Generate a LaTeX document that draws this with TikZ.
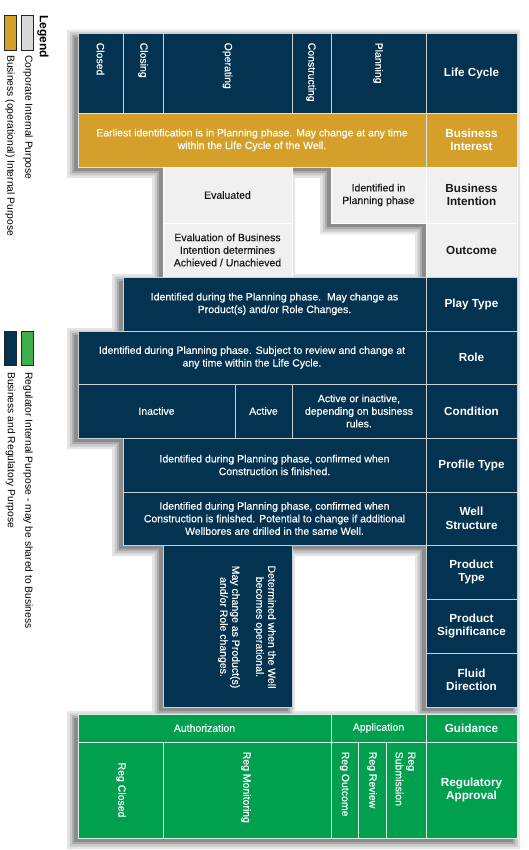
\documentclass[tikz,border=0pt]{standalone}
\usepackage{fontspec}
\setmainfont{Liberation Sans}
\newfontfamily\heavyfont{Liberation Sans}[FakeBold=0.35]
\definecolor{navy}{HTML}{033350}
\definecolor{gold}{HTML}{D4A02A}
\definecolor{lgray}{HTML}{F0F0F0}
\definecolor{regreen}{HTML}{00A04F}
\definecolor{leggreen}{HTML}{3DAE49}
\definecolor{leggray}{HTML}{D9D9D9}
\definecolor{cellline}{HTML}{C9D0D6}
\definecolor{shadowc}{HTML}{303030}
\newcommand{\mycell}[7]{\node[#6, minimum width={(#4-#2)*1pt}, minimum height={(#5-#3)*1pt}, anchor=north west] (#1) at (#2,#3) {#7};}
\newcommand{\shadowblocks}[1]{%
  \fill[shadowc] (78-#1,33-#1) rectangle (517+#1,167+#1);
  \fill[shadowc] (163-#1,167-#1) rectangle (292+#1,277+#1);
  \fill[shadowc] (331-#1,167-#1) rectangle (517+#1,223+#1);
  \fill[shadowc] (426-#1,223-#1) rectangle (517+#1,277+#1);
  \fill[shadowc] (123-#1,277-#1) rectangle (517+#1,331+#1);
  \fill[shadowc] (78-#1,331-#1) rectangle (517+#1,438+#1);
  \fill[shadowc] (123-#1,438-#1) rectangle (517+#1,545+#1);
  \fill[shadowc] (163-#1,545-#1) rectangle (292+#1,707+#1);
  \fill[shadowc] (426-#1,545-#1) rectangle (517+#1,707+#1);
  \fill[shadowc] (78-#1,714-#1) rectangle (517+#1,838+#1);}
\tikzset{
  body/.style={font=\heavyfont\fontsize{10.5}{12.6}\selectfont},
  lab/.style={font=\bfseries\fontsize{11.7}{13.4}\selectfont},
  basecell/.style={line width=0.8pt, align=center, inner sep=0pt, outer sep=0pt},
  navycell/.style={basecell, fill=navy, draw=cellline, text=white},
  goldcell/.style={basecell, fill=gold, draw=cellline!60!white, text=white},
  graycell/.style={basecell, fill=lgray, draw=white, text=black!90},
  greencell/.style={basecell, fill=regreen, draw=white!85!regreen, text=white},
  swatch/.style={basecell, draw=black!85, line width=0.9pt},
  vtxt/.style={rotate=-90, anchor=west, inner sep=0pt, font=\heavyfont\fontsize{10.5}{12.6}\selectfont, text=white},
  legtxt/.style={rotate=-90, anchor=west, inner sep=0pt, font=\fontsize{10.3}{12.4}\selectfont, text=black}
}
\begin{document}
\begin{tikzpicture}[x=1pt, y=-1pt]
\useasboundingbox (0,0) rectangle (528,850);
\fill[white] (0,0) rectangle (528,850);
% shadows
\begin{scope}[shift={(-4,4)}]
  \begin{scope}[transparency group, opacity=0.12] \shadowblocks{7} \end{scope}
  \begin{scope}[transparency group, opacity=0.15] \shadowblocks{4.5} \end{scope}
  \begin{scope}[transparency group, opacity=0.2] \shadowblocks{2} \end{scope}
  \begin{scope}[transparency group, opacity=0.25] \shadowblocks{0} \end{scope}
\end{scope}
% legend
\node[rotate=-90, anchor=west, inner sep=0pt, font=\bfseries\fontsize{12}{14}\selectfont] (legend) at (43,15) {Legend};
\mycell{swgray}{21}{15}{33}{50}{swatch, fill=leggray}{}
\mycell{swgold}{4}{15}{16}{50}{swatch, fill=gold}{}
\node[legtxt] (lgcorp) at (28,55) {Corporate Internal Purpose};
\node[legtxt] (lgbiz) at (10,55) {Business (operational) Internal Purpose};
\mycell{swgreen}{21}{331}{33}{365}{swatch, fill=leggreen}{}
\mycell{swnavy}{4}{331}{16}{365}{swatch, fill=navy}{}
\node[legtxt] (lgreg) at (28,372) {Regulator Internal Purpose - may be shared to Business};
\node[legtxt] (lgbr) at (10.5,372) {Business and Regulatory Purpose};
% life cycle
\mycell{closed}{78}{33}{123}{113}{navycell}{}
\mycell{closing}{123}{33}{163}{113}{navycell}{}
\mycell{operating}{163}{33}{292}{113}{navycell}{}
\mycell{constructing}{292}{33}{331}{113}{navycell}{}
\mycell{planning}{331}{33}{426}{113}{navycell}{}
\mycell{lifecycle}{426}{33}{517}{113}{navycell,lab}{Life Cycle}
\node[vtxt] (tclosed) at (100.5,42.5) {Closed};
\node[vtxt] (tclosing) at (143,42.5) {Closing};
\node[vtxt] (toperating) at (227.5,42.5) {Operating};
\node[vtxt] (tconstructing) at (311,42.5) {Constructing};
\node[vtxt] (tplanning) at (378,42.5) {Planning};
% business interest
\mycell{biztxt}{78}{113}{426}{167}{goldcell,body}{Earliest identification is in Planning phase. May change at any time\\within the Life Cycle of the Well.}
\mycell{bizint}{426}{113}{517}{167}{goldcell,lab}{Business\\Interest}
% business intention / outcome
\mycell{evaluated}{163}{167}{292}{223}{graycell,body}{Evaluated}
\mycell{identified}{331}{167}{426}{223}{graycell,body}{Identified in\\Planning phase}
\mycell{bizintent}{426}{167}{517}{223}{graycell,lab}{Business\\Intention}
\mycell{evaloutcome}{163}{223}{292}{277}{graycell,body}{Evaluation of Business\\Intention determines\\Achieved / Unachieved}
\mycell{outcome}{426}{223}{517}{277}{graycell,lab}{Outcome}
% play type
\mycell{playtxt}{123}{277}{426}{331}{navycell,body}{Identified during the Planning phase.\ \ May change as\\Product(s) and/or Role Changes.}
\mycell{playtype}{426}{277}{517}{331}{navycell,lab}{Play Type}
% role
\mycell{roletxt}{78}{331}{426}{384}{navycell,body}{Identified during Planning phase. Subject to review and change at\\any time within the Life Cycle.}
\mycell{role}{426}{331}{517}{384}{navycell,lab}{Role}
% condition
\mycell{inactive}{78}{384}{235}{438}{navycell,body}{Inactive}
\mycell{active}{235}{384}{292}{438}{navycell,body}{Active}
\mycell{actorin}{292}{384}{426}{438}{navycell,body}{Active or inactive,\\depending on business\\rules.}
\mycell{condition}{426}{384}{517}{438}{navycell,lab}{Condition}
% profile type
\mycell{proftxt}{123}{438}{426}{492}{navycell,body}{Identified during Planning phase, confirmed when\\Construction is finished.}
\mycell{profile}{426}{438}{517}{492}{navycell,lab}{Profile Type}
% well structure
\mycell{welltxt}{123}{492}{426}{545}{navycell,body}{Identified during Planning phase, confirmed when\\Construction is finished. Potential to change if additional\\Wellbores are drilled in the same Well.}
\mycell{wellstruct}{426}{492}{517}{545}{navycell,lab}{Well\\Structure}
% product
\mycell{prodbox}{163}{545}{292}{707}{navycell}{}
\mycell{prodtype}{426}{545}{517}{599}{navycell,lab}{Product\\Type}
\mycell{prodsig}{426}{599}{517}{653}{navycell,lab}{Product\\Significance}
\mycell{fluid}{426}{653}{517}{707}{navycell,lab}{Fluid\\Direction}
\node[rotate=-90, anchor=north, inner sep=0pt, align=center, text=white, font=\heavyfont\fontsize{10.5}{12}\selectfont] (prodtxt) at (276,627) {Determined when the Well\\becomes operational.\\[12pt]May change as Product(s)\\and/or Role changes.};
% regulatory
\mycell{authz}{78}{714}{331}{742}{greencell,body}{Authorization}
\mycell{appl}{331}{714}{426}{742}{greencell,body}{Application}
\mycell{guidance}{426}{714}{517}{742}{greencell,lab}{Guidance}
\mycell{regclosed}{78}{742}{163}{838}{greencell}{}
\mycell{regmon}{163}{742}{331}{838}{greencell}{}
\mycell{regout}{331}{742}{358}{838}{greencell}{}
\mycell{regrev}{358}{742}{386}{838}{greencell}{}
\mycell{regsub}{386}{742}{426}{838}{greencell}{}
\mycell{regapp}{426}{742}{517}{838}{greencell,lab}{Regulatory\\Approval}
\node[vtxt, anchor=center] (tregclosed) at (121,790) {Reg Closed};
\node[vtxt] (tregmon) at (246,751.5) {Reg Monitoring};
\node[vtxt] (tregout) at (344.5,751.5) {Reg Outcome};
\node[vtxt] (tregrev) at (372,751.5) {Reg Review};
\node[vtxt, align=left] (tregsub) at (405.5,751.5) {Reg\\Submission};
\end{tikzpicture}
\end{document}
